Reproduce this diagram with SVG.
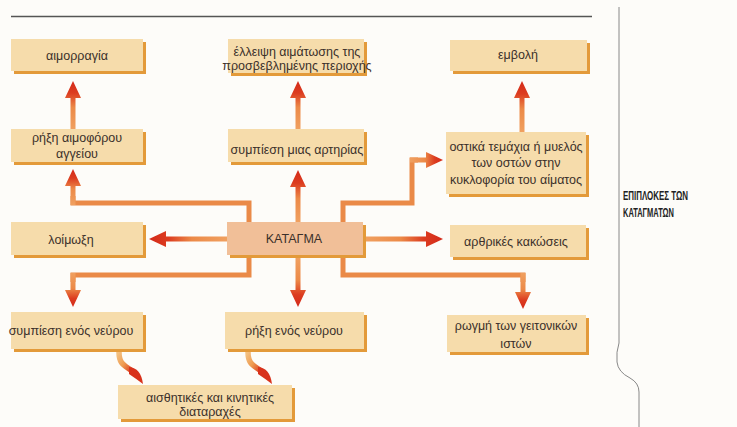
<svg xmlns="http://www.w3.org/2000/svg" width="737" height="427" viewBox="0 0 737 427">
<style>
.sh{fill:#e39a3a}
.bx{fill:#f6dcab}
.km{fill:#f1bf98}
.t{font-family:"Liberation Sans","DejaVu Sans",sans-serif;font-size:12.5px;fill:#3b302a;text-anchor:middle}
.ln{fill:none;stroke:#ea8a48;stroke-width:5;stroke-linejoin:miter}
.ttl{font-family:"Liberation Sans","DejaVu Sans",sans-serif;font-weight:bold;font-size:12.5px;fill:#222}
</style>
<defs>
<linearGradient id="gU" x1="0" y1="1" x2="0" y2="0"><stop offset="0" stop-color="#f0a060"/><stop offset="0.45" stop-color="#ec8a48"/><stop offset="0.75" stop-color="#dc3c20"/><stop offset="1" stop-color="#d42a1a"/></linearGradient>
<linearGradient id="gD" x1="0" y1="0" x2="0" y2="1"><stop offset="0" stop-color="#f0a060"/><stop offset="0.45" stop-color="#ec8a48"/><stop offset="0.75" stop-color="#dc3c20"/><stop offset="1" stop-color="#d42a1a"/></linearGradient>
<linearGradient id="gL" x1="1" y1="0" x2="0" y2="0"><stop offset="0" stop-color="#f0a060"/><stop offset="0.45" stop-color="#ec8a48"/><stop offset="0.75" stop-color="#dc3c20"/><stop offset="1" stop-color="#d42a1a"/></linearGradient>
<linearGradient id="gR" x1="0" y1="0" x2="1" y2="0"><stop offset="0" stop-color="#f0a060"/><stop offset="0.45" stop-color="#ec8a48"/><stop offset="0.75" stop-color="#dc3c20"/><stop offset="1" stop-color="#d42a1a"/></linearGradient>
<linearGradient id="gC" x1="0" y1="0" x2="1" y2="1"><stop offset="0" stop-color="#f3c080"/><stop offset="0.5" stop-color="#ee9a50"/><stop offset="1" stop-color="#dc3c20"/></linearGradient>
</defs>
<rect width="737" height="427" fill="#fdfcf9"/>
<g id="frame" fill="none">
<line x1="11" y1="16.5" x2="592" y2="16.5" stroke="#555" stroke-width="1.6"/>
<path d="M619,7 V343 Q616,352 617,362 Q618,372 630,378 Q639,383 639,392 V427" stroke="#888" stroke-width="1"/>
</g>
<g id="title">
<text class="ttl" x="623" y="200" textLength="65" lengthAdjust="spacingAndGlyphs">ΕΠΙΠΛΟΚΕΣ ΤΩΝ</text>
<text class="ttl" x="623" y="217" textLength="51" lengthAdjust="spacingAndGlyphs">ΚΑΤΑΓΜΑΤΩΝ</text>
</g>
<g id="connectors">
<polyline class="ln" points="249,222 249,203 73,203 73,196"/>
<polyline class="ln" points="249,256 249,275 73,275 73,282"/>
<polyline class="ln" points="343,222 343,203 412,203 412,160 418,160"/>
<polyline class="ln" points="343,256 343,275 523,275 523,282"/>
<polygon fill="url(#gU)" points="295.5,222 295.5,187 290,187 298,170 306,187 300.5,187 300.5,222"/>
<polygon fill="url(#gU)" points="295.5,129 295.5,98 290,98 298,81 306,98 300.5,98 300.5,129"/>
<polygon fill="url(#gU)" points="70.5,129 70.5,98 65,98 73,81 81,98 75.5,98 75.5,129"/>
<polygon fill="url(#gU)" points="519.5,132 519.5,98 514,98 522,81 530,98 524.5,98 524.5,132"/>
<polygon fill="url(#gU)" points="70.5,205 70.5,186 65,186 73,169 81,186 75.5,186 75.5,205"/>
<polygon fill="url(#gL)" points="227,236.5 166,236.5 166,231 149,239 166,247 166,241.5 227,241.5"/>
<polygon fill="url(#gR)" points="366,236.5 426,236.5 426,231 443,239 426,247 426,241.5 366,241.5"/>
<polygon fill="url(#gR)" points="410,157.5 426,157.5 426,152 443,160 426,168 426,162.5 410,162.5"/>
<polygon fill="url(#gD)" points="295.5,258 295.5,290 290,290 298,307 306,290 300.5,290 300.5,258"/>
<polygon fill="url(#gD)" points="70.5,273 70.5,290 65,290 73,307 81,290 75.5,290 75.5,273"/>
<polygon fill="url(#gD)" points="520.5,273 520.5,292 515,292 523,309 531,292 525.5,292 525.5,273"/>
<path d="M119,352 C119,364 124,365 132,371" fill="none" stroke="url(#gC)" stroke-width="5.5" stroke-linecap="round"/>
<path d="M129,367 Q141,368 143,384 Q135,378 129,374 Z" fill="#d8321c"/>
<path d="M248,352 C248,364 253,365 261,371" fill="none" stroke="url(#gC)" stroke-width="5.5" stroke-linecap="round"/>
<path d="M258,367 Q270,368 272,384 Q264,378 258,374 Z" fill="#d8321c"/>
</g>
<g id="n-haimorrhage"><rect class="sh" x="14" y="42" width="132" height="32"/><rect class="bx" x="11" y="39" width="132" height="32"/><text class="t" x="77" y="60">αιμορραγία</text></g>
<g id="n-ischemia"><rect class="sh" x="231" y="42" width="136" height="34"/><rect class="bx" x="228" y="39" width="136" height="34"/><text class="t" x="297" y="56">έλλειψη αιμάτωσης της</text><text class="t" x="297" y="70">προσβεβλημένης περιοχής</text></g>
<g id="n-vessel"><rect class="sh" x="14" y="132" width="132" height="33"/><rect class="bx" x="11" y="129" width="132" height="33"/><text class="t" x="77" y="142">ρήξη αιμοφόρου</text><text class="t" x="77" y="158">αγγείου</text></g>
<g id="n-artery"><rect class="sh" x="231" y="132" width="136" height="33"/><rect class="bx" x="228" y="129" width="136" height="33"/><text class="t" x="297" y="154">συμπίεση μιας αρτηρίας</text></g>
<g id="n-embolism"><rect class="sh" x="453" y="43" width="137" height="31"/><rect class="bx" x="450" y="40" width="137" height="31"/><text class="t" x="518" y="59">εμβολή</text></g>
<g id="n-fragments"><rect class="sh" x="449" y="135" width="140" height="62"/><rect class="bx" x="446" y="132" width="140" height="62"/><text class="t" x="516" y="151">οστικά τεμάχια ή μυελός</text><text class="t" x="516" y="167">των οστών στην</text><text class="t" x="516" y="184">κυκλοφορία του αίματος</text></g>
<g id="n-fracture"><rect class="sh" x="230" y="225" width="136" height="33"/><rect class="km" x="227" y="222" width="136" height="33"/><text class="t" x="294" y="243">ΚΑΤΑΓΜΑ</text></g>
<g id="n-infection"><rect class="sh" x="14" y="225" width="132" height="33"/><rect class="bx" x="11" y="222" width="132" height="33"/><text class="t" x="71" y="244">λοίμωξη</text></g>
<g id="n-joint"><rect class="sh" x="453" y="228" width="136" height="32"/><rect class="bx" x="450" y="225" width="136" height="32"/><text class="t" x="516" y="246">αρθρικές κακώσεις</text></g>
<g id="n-nervecomp"><rect class="sh" x="14" y="315" width="132" height="37"/><rect class="bx" x="11" y="312" width="132" height="37"/><text class="t" x="71" y="335">συμπίεση ενός νεύρου</text></g>
<g id="n-nerverupt"><rect class="sh" x="228" y="315" width="139" height="37"/><rect class="bx" x="225" y="312" width="139" height="37"/><text class="t" x="294" y="335">ρήξη ενός νεύρου</text></g>
<g id="n-tissue"><rect class="sh" x="450" y="318" width="139" height="37"/><rect class="bx" x="447" y="315" width="139" height="37"/><text class="t" x="516" y="330">ρωγμή των γειτονικών</text><text class="t" x="516" y="348">ιστών</text></g>
<g id="n-sensory"><rect class="sh" x="121" y="388" width="174" height="34"/><rect class="bx" x="118" y="385" width="174" height="34"/><text class="t" x="210" y="402">αισθητικές και κινητικές</text><text class="t" x="210" y="416">διαταραχές</text></g>
</svg>
